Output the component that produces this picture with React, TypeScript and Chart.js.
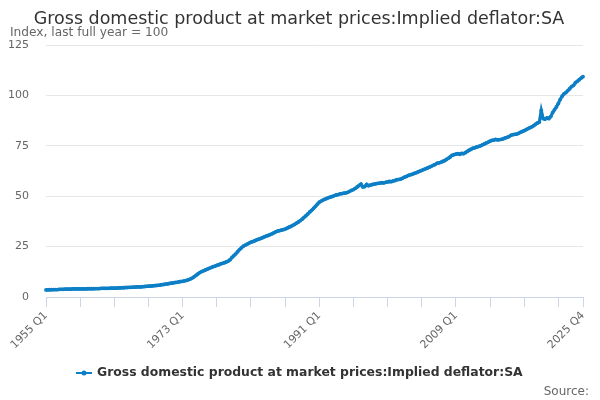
import React, { useEffect, useRef } from "react";
import { Chart, registerables } from "chart.js";

Chart.register(...registerables);

const TITLE = "Gross domestic product at market prices:Implied deflator:SA";
const SUBTITLE = "Index, last full year = 100";
const SERIES_NAME = "Gross domestic product at market prices:Implied deflator:SA";
const SOURCE = "Source:";

const START_YEAR = 1955;
const END_YEAR = 2025;

// Quarterly values (Q1..Q4 per year)
const values1955to1969 = [
  3.5, 3.5, 3.6, 3.6,
  3.7, 3.7, 3.7, 3.8,
  3.8, 3.8, 3.9, 3.9,
  3.9, 3.9, 4.0, 4.0,
  4.0, 4.0, 4.0, 4.0,
  4.0, 4.0, 4.1, 4.1,
  4.1, 4.1, 4.2, 4.2,
  4.2, 4.3, 4.3, 4.3,
  4.3, 4.3, 4.4, 4.4,
  4.4, 4.4, 4.5, 4.5,
  4.6, 4.6, 4.7, 4.7,
  4.8, 4.8, 4.9, 4.9,
  5.0, 5.0, 5.0, 5.1,
  5.2, 5.3, 5.4, 5.4,
  5.5, 5.6, 5.7, 5.8,
];
const values1970to1984 = [
  5.9, 6.1, 6.2, 6.4,
  6.5, 6.7, 6.9, 7.0,
  7.2, 7.3, 7.5, 7.7,
  7.8, 8.0, 8.2, 8.5,
  8.9, 9.4, 10.0, 10.7,
  11.4, 12.1, 12.6, 13.0,
  13.4, 13.8, 14.2, 14.6,
  15.0, 15.3, 15.7, 16.0,
  16.4, 16.7, 17.0, 17.4,
  17.8, 18.5, 19.6, 20.5,
  21.4, 22.5, 23.5, 24.4,
  25.2, 25.7, 26.2, 26.7,
  27.2, 27.5, 27.9, 28.3,
  28.7, 29.0, 29.4, 29.8,
  30.2, 30.5, 30.9, 31.3,
];
const values1985to1999 = [
  31.8, 32.3, 32.7, 32.9,
  33.2, 33.4, 33.7, 34.1,
  34.6, 35.0, 35.5, 36.0,
  36.6, 37.2, 37.9, 38.6,
  39.5, 40.3, 41.2, 42.2,
  43.0, 44.0, 45.0, 46.0,
  47.0, 47.6, 48.1, 48.5,
  48.9, 49.3, 49.6, 49.9,
  50.3, 50.6, 50.8, 51.2,
  51.3, 51.5, 51.6, 51.9,
  52.4, 52.9, 53.3, 53.9,
  54.6, 55.3, 56.0, 54.6,
  54.8, 55.9, 55.2, 55.5,
  55.8, 56.0, 56.2, 56.4,
  56.5, 56.7, 56.6, 56.9,
];
const values2000to2014 = [
  57.1, 57.3, 57.2, 57.6,
  57.8, 58.2, 58.3, 58.5,
  59.0, 59.5, 59.8, 60.3,
  60.6, 60.9, 61.3, 61.6,
  62.0, 62.4, 62.8, 63.2,
  63.6, 64.0, 64.4, 64.8,
  65.3, 65.7, 66.3, 66.5,
  66.8, 67.2, 67.6, 68.2,
  68.8, 69.5, 70.3, 70.6,
  70.9, 71.1, 70.8, 71.2,
  71.1, 71.6, 72.2, 72.8,
  73.3, 73.8, 74.0, 74.4,
  74.7, 75.0, 75.5, 75.9,
  76.4, 76.8, 77.3, 77.7,
  77.8, 78.2, 77.9, 78.1,
];
const values2015to2025 = [
  78.2, 78.5, 78.9, 79.2,
  79.6, 80.2, 80.5, 80.7,
  80.8, 81.2, 81.7, 82.1,
  82.5, 83.0, 83.5, 84.0,
  84.4, 85.0, 85.7, 86.3,
  86.8, 92.5, 88.5, 88.2,
  88.9, 88.5, 89.5, 91.5,
  92.9, 94.3, 96.0, 98.0,
  99.6, 100.8, 101.4, 102.4,
  103.3, 104.4, 105.0, 106.3,
  107.0, 107.8, 108.6, 109.3,
];

const deflatorValues = [
  ...values1955to1969,
  ...values1970to1984,
  ...values1985to1999,
  ...values2000to2014,
  ...values2015to2025,
];

const quarterLabels: string[] = [];
for (let y = START_YEAR; y <= END_YEAR; y++) {
  for (let q = 1; q <= 4; q++) quarterLabels.push(`${y} Q${q}`);
}

const shownLabels = ["1955 Q1", "1973 Q1", "1991 Q1", "2009 Q1", "2025 Q4"];
const TICK_EVERY = 18;

const yTicks = [0, 25, 50, 75, 100, 125];

const LINE_COLOR = "#0c7fc6";
const FONT = "'DejaVu Sans', sans-serif";

const textPlugin = {
  id: "textPlugin",
  afterDraw(chart: any) {
    const ctx = chart.ctx;
    ctx.save();
    ctx.textBaseline = "alphabetic";
    // title
    ctx.fillStyle = "#333333";
    ctx.font = `17.5px ${FONT}`;
    ctx.textAlign = "center";
    ctx.fillText(TITLE, 299, 24);
    // subtitle
    ctx.fillStyle = "#666666";
    ctx.font = `12.2px ${FONT}`;
    ctx.textAlign = "left";
    ctx.fillText(SUBTITLE, 10, 36);
    // legend
    ctx.font = `bold 12.4px ${FONT}`;
    const w = ctx.measureText(SERIES_NAME).width;
    const x0 = 76;
    const ly = 373;
    ctx.strokeStyle = LINE_COLOR;
    ctx.lineWidth = 2;
    ctx.beginPath();
    ctx.moveTo(x0, ly);
    ctx.lineTo(x0 + 16, ly);
    ctx.stroke();
    ctx.fillStyle = LINE_COLOR;
    ctx.beginPath();
    ctx.arc(x0 + 8, ly, 2.5, 0, Math.PI * 2);
    ctx.fill();
    ctx.fillStyle = "#333333";
    ctx.textBaseline = "middle";
    ctx.fillText(SERIES_NAME, x0 + 21, ly);
    // source
    ctx.fillStyle = "#666666";
    ctx.font = `12px ${FONT}`;
    ctx.textAlign = "right";
    ctx.textBaseline = "alphabetic";
    ctx.fillText(SOURCE, 589, 395);
    ctx.restore();
    void w;
  },
};

export default function App() {
  const canvasRef = useRef<HTMLCanvasElement | null>(null);

  useEffect(() => {
    document.body.style.margin = "0";
    const canvas = canvasRef.current;
    if (!canvas) return;
    const chart = new Chart(canvas, {
      type: "line",
      data: {
        labels: quarterLabels,
        datasets: [
          {
            label: SERIES_NAME,
            data: deflatorValues,
            borderColor: LINE_COLOR,
            backgroundColor: LINE_COLOR,
            borderWidth: 3.2,
            pointRadius: 1.9,
            pointBorderWidth: 0,
            pointBackgroundColor: LINE_COLOR,
            tension: 0,
          },
        ],
      },
      options: {
        animation: false,
        responsive: false,
        maintainAspectRatio: false,
        layout: { padding: { top: 45, right: 17, left: 0, bottom: 0 } },
        plugins: {
          legend: { display: false },
          title: { display: false },
          tooltip: { enabled: false },
        },
        scales: {
          x: {
            type: "category",
            offset: false,
            afterFit(scale: any) {
              scale.height = 103;
            },
            afterBuildTicks(scale: any) {
              const t: any[] = [];
              for (let i = 0; i < quarterLabels.length; i += TICK_EVERY) t.push({ value: i });
              t.push({ value: quarterLabels.length - 1 });
              scale.ticks = t;
            },
            ticks: {
              autoSkip: false,
              maxRotation: 45,
              minRotation: 45,
              padding: 2,
              color: "#666666",
              font: { family: FONT, size: 11 },
              callback(value: any) {
                const lab = quarterLabels[value as number];
                return shownLabels.includes(lab) ? lab : "";
              },
            },
            grid: {
              display: true,
              drawOnChartArea: false,
              drawTicks: true,
              tickLength: 10,
              color: "#ccd6eb",
            },
            border: { display: true, color: "#ccd6eb", width: 1 },
          },
          y: {
            min: 0,
            max: 125,
            afterFit(scale: any) {
              scale.width = 46;
            },
            afterBuildTicks(scale: any) {
              scale.ticks = yTicks.map((v) => ({ value: v }));
            },
            ticks: {
              padding: 17,
              color: "#666666",
              font: { family: FONT, size: 11 },
            },
            grid: {
              color: "#e6e6e6",
              drawTicks: false,
            },
            border: { display: false },
          },
        },
      },
      plugins: [textPlugin],
    });
    return () => chart.destroy();
  }, []);

  return (
    <div style={{ position: "absolute", left: 0, top: 0, width: 600, height: 400 }}>
      <canvas ref={canvasRef} width={600} height={400} style={{ width: 600, height: 400 }} />
    </div>
  );
}
